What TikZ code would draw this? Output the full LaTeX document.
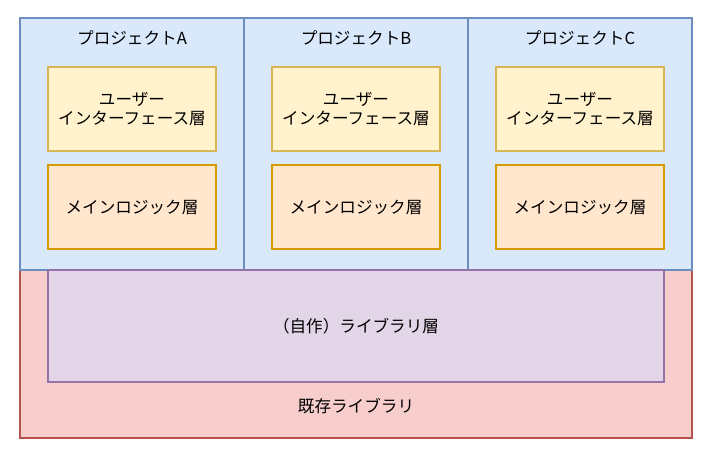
\documentclass[tikz,border=0pt]{standalone}
\usepackage{fontspec}
\setmainfont{Noto Sans CJK JP}
\begin{document}
\begin{tikzpicture}[x=1pt,y=-1pt,
  box/.style={draw, line width=1.2pt, inner sep=0pt},
  proj/.style={box, fill={rgb,255:red,218;green,232;blue,252}, draw={rgb,255:red,108;green,142;blue,191}},
  uibox/.style={box, fill={rgb,255:red,255;green,242;blue,204}, draw={rgb,255:red,214;green,182;blue,86}},
  logicbox/.style={box, fill={rgb,255:red,255;green,230;blue,204}, draw={rgb,255:red,215;green,155;blue,0}},
  libbox/.style={box, fill={rgb,255:red,225;green,213;blue,231}, draw={rgb,255:red,150;green,115;blue,166}},
  extbox/.style={box, fill={rgb,255:red,248;green,206;blue,204}, draw={rgb,255:red,184;green,84;blue,80}},
  lbl/.style={font=\fontsize{16.6}{19.5}\selectfont, align=center, inner sep=0pt}
]
\useasboundingbox (0,0) rectangle (709,458);
% existing libraries
\draw[extbox] (20,270) rectangle (692,438);
\node[lbl] (ext) at (356,406) {既存ライブラリ};
% projects
\foreach \n/\x/\t in {a/20/A, b/244/B, c/468/C}{
  \draw[proj] (\x,18) rectangle ++(224,252);
  \node[lbl] (title\n) at (\x+112,38) {プロジェクト\t};
  \draw[uibox] (\x+28,67) rectangle ++(168,84);
  \node[lbl] (ui\n) at (\x+112,109) {ユーザー\\インターフェース層};
  \draw[logicbox] (\x+28,165) rectangle ++(168,84);
  \node[lbl] (logic\n) at (\x+112,207) {メインロジック層};
}
% own library
\draw[libbox] (48,270) rectangle (664,382);
\node[lbl] (lib) at (356,326) {（自作）ライブラリ層};
\end{tikzpicture}
\end{document}
